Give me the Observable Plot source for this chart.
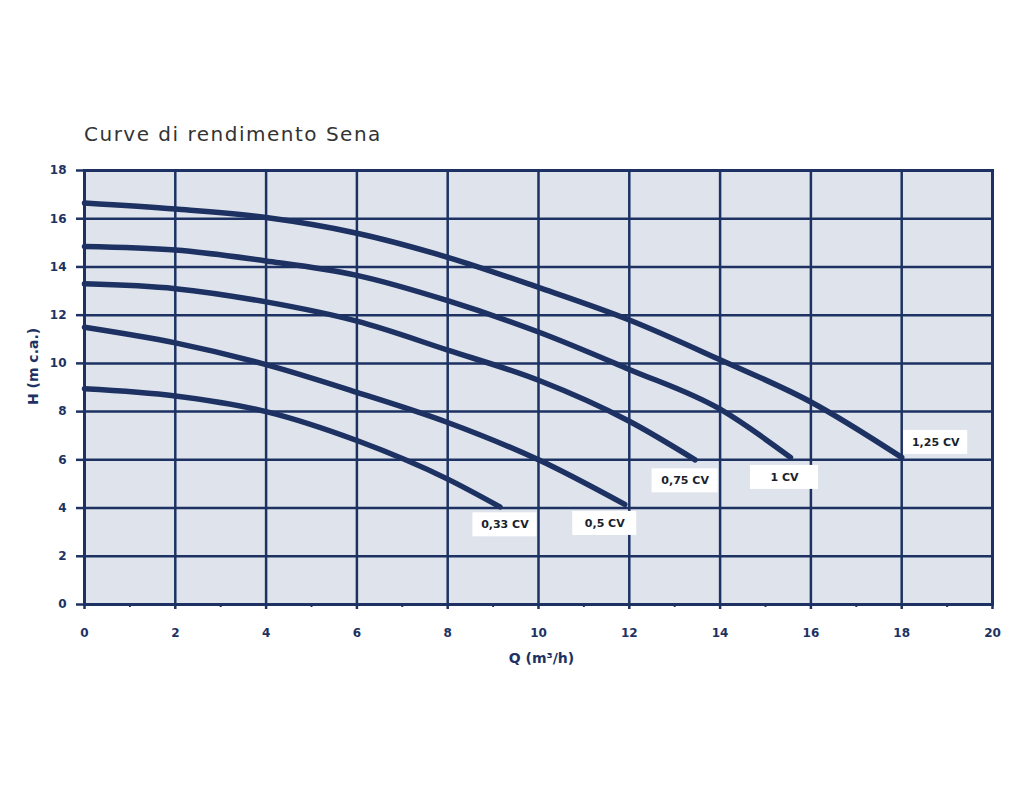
<!DOCTYPE html>
<html>
<head>
<meta charset="utf-8">
<script src="https://cdn.jsdelivr.net/npm/d3@7"></script>
<script src="https://cdn.jsdelivr.net/npm/@observablehq/plot@0.6"></script>
<style>
  html, body { margin: 0; padding: 0; background: #ffffff; }
  #title { position: absolute; left: 84px; top: 122px; font-family: "DejaVu Sans", sans-serif; font-size: 20px; letter-spacing: 1.5px; color: #333333; }
  #chart { position: absolute; left: 0; top: 150px; }
</style>
</head>
<body>
<div id="title">Curve di rendimento Sena</div>
<div id="chart"></div>
<script>
// Curve data (Q in m³/h, H in m c.a.)
const q125 = [0, 2, 4, 6, 8, 10, 12, 14, 16, 18];
const h125 = [16.65, 16.4, 16.05, 15.4, 14.4, 13.15, 11.8, 10.15, 8.4, 6.1];
const q100 = [0, 2, 4, 6, 8, 10, 12, 14, 15.55];
const h100 = [14.85, 14.7, 14.25, 13.65, 12.6, 11.3, 9.75, 8.1, 6.1];
const q075 = [0, 2, 4, 6, 8, 10, 12, 13.45];
const h075 = [13.3, 13.1, 12.55, 11.75, 10.55, 9.3, 7.6, 6.0];
const q050 = [0, 2, 4, 6, 8, 10, 11.9];
const h050 = [11.5, 10.85, 9.95, 8.8, 7.55, 6.0, 4.15];
const q033 = [0, 2, 4, 6, 8, 9.15];
const h033 = [8.95, 8.65, 8.0, 6.8, 5.2, 4.05];

const curveNames = ["1,25 CV", "1 CV", "0,75 CV", "0,5 CV", "0,33 CV"];
const xTicks = [0, 2, 4, 6, 8, 10, 12, 14, 16, 18, 20];
const xMinorTicks = [1, 3, 5, 7, 9, 11, 13, 15, 17, 19];
const yTicks = [0, 2, 4, 6, 8, 10, 12, 14, 16, 18];
const titleX = "Q (m³/h)";
const titleY = "H (m c.a.)";

const qs = [q125, q100, q075, q050, q033];
const hs = [h125, h100, h075, h050, h033];
const rows = [];
curveNames.forEach((name, i) => qs[i].forEach((q, j) => rows.push({name, q, h: hs[i][j]})));
const ends = curveNames.map((name, i) => ({name, q: qs[i][qs[i].length - 1], h: hs[i][hs[i].length - 1]}));

// label box offsets and half-widths (styling, pixels)
const labelStyle = {
  "1,25 CV": {dx: 34, dy: -15, hw: 32},
  "1 CV": {dx: -6, dy: 20, hw: 34},
  "0,75 CV": {dx: -10, dy: 21, hw: 33},
  "0,5 CV": {dx: -20, dy: 19, hw: 32},
  "0,33 CV": {dx: 5, dy: 18, hw: 32}
};

const navy = "#1d3263";
const bg = "#dfe4ec";

const plot = Plot.plot({
  width: 1024,
  height: 560,
  marginTop: 20,
  marginLeft: 84,
  marginRight: 32,
  marginBottom: 106,
  style: {fontFamily: "DejaVu Sans, sans-serif", fontSize: "12px", fontWeight: "bold", background: "transparent"},
  x: {domain: [0, 20]},
  y: {domain: [0, 18]},
  marks: [
    Plot.frame({fill: bg, stroke: null}),
    Plot.gridX(xTicks, {stroke: navy, strokeOpacity: 1, strokeWidth: 2.5}),
    Plot.gridY(yTicks, {stroke: navy, strokeOpacity: 1, strokeWidth: 2.5}),
    Plot.frame({stroke: navy, strokeWidth: 3}),
    Plot.axisX(xTicks, {tickSize: 5, tickPadding: 19, stroke: navy, fill: navy, strokeWidth: 2.5, tickFormat: d3.format("d"), label: null}),
    Plot.axisX(xMinorTicks, {tickSize: 3, stroke: navy, strokeWidth: 2, text: null, label: null}),
    Plot.axisY(yTicks, {tickSize: 8, tickPadding: 10, stroke: navy, fill: navy, strokeWidth: 2.5, tickFormat: d3.format("d"), label: null}),
    Plot.text([titleY], {frameAnchor: "left", text: d => d, rotate: -90, textAnchor: "middle", dx: -51, dy: -21, fill: navy, fontSize: 14, fontWeight: "bold"}),
    Plot.text([titleX], {frameAnchor: "bottom", text: d => d, textAnchor: "middle", dx: 3, dy: 58, fill: navy, fontSize: 14, fontWeight: "bold"}),
    Plot.line(rows, {x: "q", y: "h", z: "name", stroke: navy, strokeWidth: 5.5, curve: "monotone-x"}),
    ...ends.map(e => {
      const s = labelStyle[e.name];
      return Plot.rect([e], {x1: "q", x2: "q", y1: "h", y2: "h", insetLeft: -s.hw, insetRight: -s.hw, insetTop: -12, insetBottom: -12, dx: s.dx, dy: s.dy, fill: "white"});
    }),
    ...ends.map(e => {
      const s = labelStyle[e.name];
      return Plot.text([e], {x: "q", y: "h", text: "name", dx: s.dx, dy: s.dy, fill: "#1a1f2e", fontSize: 11, fontWeight: "bold"});
    })
  ]
});
document.getElementById("chart").appendChild(plot);
</script>
</body>
</html>
